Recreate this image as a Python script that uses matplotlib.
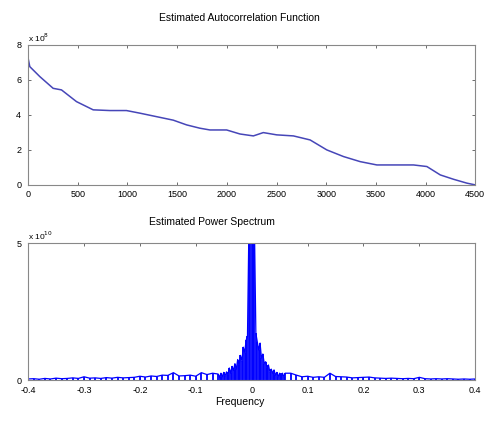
import numpy as np
import matplotlib
matplotlib.use("Agg")
import matplotlib.pyplot as plt

plt.rcParams['font.family'] = ['Liberation Sans', 'DejaVu Sans']

# ── Autocorrelation (values in units of 1e8) ──
lag = [0, 17, 118, 252, 336, 487, 655, 823, 990, 1125, 1293, 1461, 1595, 1729,
       1830, 1998, 2132, 2267, 2367, 2502, 2670, 2838, 3006, 3174, 3342, 3510,
       3678, 3879, 4013, 4148, 4282, 4416, 4500]
acf = [7.24, 6.76, 6.19, 5.52, 5.43, 4.76, 4.29, 4.25, 4.25, 4.1, 3.9, 3.7, 3.43,
       3.24, 3.14, 3.14, 2.91, 2.8, 2.99, 2.86, 2.8, 2.57, 2.0, 1.62, 1.33, 1.14,
       1.14, 1.14, 1.05, 0.57, 0.32, 0.1, 0.0]

# ── Power spectrum (values in units of 1e10) ──
freq_left = [-0.40, -0.39, -0.38, -0.37, -0.36, -0.35, -0.34, -0.33, -0.32, -0.31,
             -0.30, -0.29, -0.28, -0.27, -0.26, -0.25, -0.24, -0.23, -0.22, -0.21,
             -0.20, -0.19, -0.18, -0.17, -0.16, -0.15, -0.14, -0.13, -0.12, -0.11,
             -0.10, -0.09, -0.08, -0.07]
pow_left = [0.04, 0.05, 0.03, 0.06, 0.04, 0.07, 0.05, 0.06, 0.08, 0.06,
            0.12, 0.07, 0.08, 0.06, 0.09, 0.07, 0.10, 0.08, 0.09, 0.10,
            0.14, 0.11, 0.15, 0.13, 0.18, 0.17, 0.27, 0.15, 0.16, 0.18,
            0.14, 0.27, 0.20, 0.25]
freq_mid = [-0.06, -0.0575, -0.055, -0.0525, -0.05, -0.0475, -0.045, -0.0425,
            -0.04, -0.0375, -0.035, -0.0325, -0.03, -0.0275, -0.025, -0.0225,
            -0.02, -0.0175, -0.015, -0.0125, -0.01, -0.0075, -0.005, -0.0025,
            0.0, 0.0025, 0.005, 0.0075, 0.01, 0.0125, 0.015, 0.0175, 0.02,
            0.0225, 0.025, 0.0275, 0.03, 0.0325, 0.035, 0.0375, 0.04, 0.0425,
            0.045, 0.0475, 0.05, 0.0525, 0.055, 0.0575, 0.06]
pow_mid = [0.22, 0.10, 0.25, 0.12, 0.28, 0.15, 0.30, 0.20,
           0.44, 0.25, 0.50, 0.35, 0.60, 0.40, 0.75, 0.55,
           0.90, 0.70, 1.20, 1.00, 1.45, 1.60, 5.5, 6.0,
           6.0, 6.0, 5.5, 1.70, 1.40, 1.10, 1.35, 0.80, 0.95,
           0.60, 0.67, 0.45, 0.55, 0.30, 0.40, 0.25, 0.37, 0.18,
           0.28, 0.12, 0.25, 0.10, 0.25, 0.12, 0.25]
freq_right = [0.07, 0.08, 0.09, 0.10, 0.11, 0.12, 0.13, 0.14, 0.15, 0.16,
              0.17, 0.18, 0.19, 0.20, 0.21, 0.22, 0.23, 0.24, 0.25, 0.26,
              0.27, 0.28, 0.29, 0.30, 0.31, 0.32, 0.33, 0.34, 0.35, 0.36,
              0.37, 0.38, 0.39, 0.40]
pow_right = [0.25, 0.18, 0.12, 0.14, 0.10, 0.12, 0.10, 0.25, 0.13, 0.12,
             0.11, 0.08, 0.09, 0.10, 0.11, 0.08, 0.07, 0.06, 0.07, 0.06,
             0.05, 0.06, 0.05, 0.10, 0.05, 0.04, 0.05, 0.04, 0.05, 0.04,
             0.03, 0.04, 0.03, 0.04]

freq = np.array(freq_left + freq_mid + freq_right)
power = np.array(pow_left + pow_mid + pow_right)

fig = plt.figure(figsize=(4.93, 4.28), dpi=100)
fs = 6.5
frame = '#888888'


def style(ax):
    ax.tick_params(direction='in', which='both', top=True, right=True,
                   labelsize=fs, length=2.5, width=0.6, color='#555555')
    ax.tick_params(axis='x', pad=4)
    ax.tick_params(axis='y', pad=5)
    for s in ax.spines.values():
        s.set_color(frame)
        s.set_linewidth(0.8)


# ── Top: autocorrelation ──
ax1 = fig.add_axes([0.057, 0.568, 0.907, 0.327])
ax1.plot(lag, acf, color='#4646b8', lw=1.1)
ax1.set_xlim(0, 4500)
ax1.set_ylim(0, 8)
ax1.set_xticks(np.arange(0, 4501, 500))
ax1.set_yticks([0, 2, 4, 6, 8])
style(ax1)
ax1.text(0.0, 1.01, r'x 10$^{8}$', transform=ax1.transAxes, fontsize=fs - 0.5,
         ha='left', va='bottom')
fig.text(0.485, 0.958, 'Estimated Autocorrelation Function', fontsize=7.5,
         ha='center', va='center')

# ── Bottom: power spectrum ──
ax2 = fig.add_axes([0.057, 0.112, 0.907, 0.320])
ax2.vlines(freq, 0, power, color='#0000ff', lw=1.3)
ax2.plot(freq, power, color='#0000ff', lw=0.9)
ax2.set_xlim(-0.4, 0.4)
ax2.set_ylim(0, 5)
ax2.set_xticks(np.round(np.arange(-0.4, 0.41, 0.1), 1))
ax2.set_xticklabels(['-0.4', '-0.3', '-0.2', '-0.1', '0', '0.1', '0.2', '0.3', '0.4'])
ax2.set_yticks([0, 5])
style(ax2)
ax2.text(0.0, 1.01, r'x 10$^{10}$', transform=ax2.transAxes, fontsize=fs - 0.5,
         ha='left', va='bottom')
fig.text(0.43, 0.482, 'Estimated Power Spectrum', fontsize=7.5,
         ha='center', va='center')
fig.text(0.487, 0.06, 'Frequency', fontsize=7.5, ha='center', va='center')

fig.savefig('out.png', dpi=100)
